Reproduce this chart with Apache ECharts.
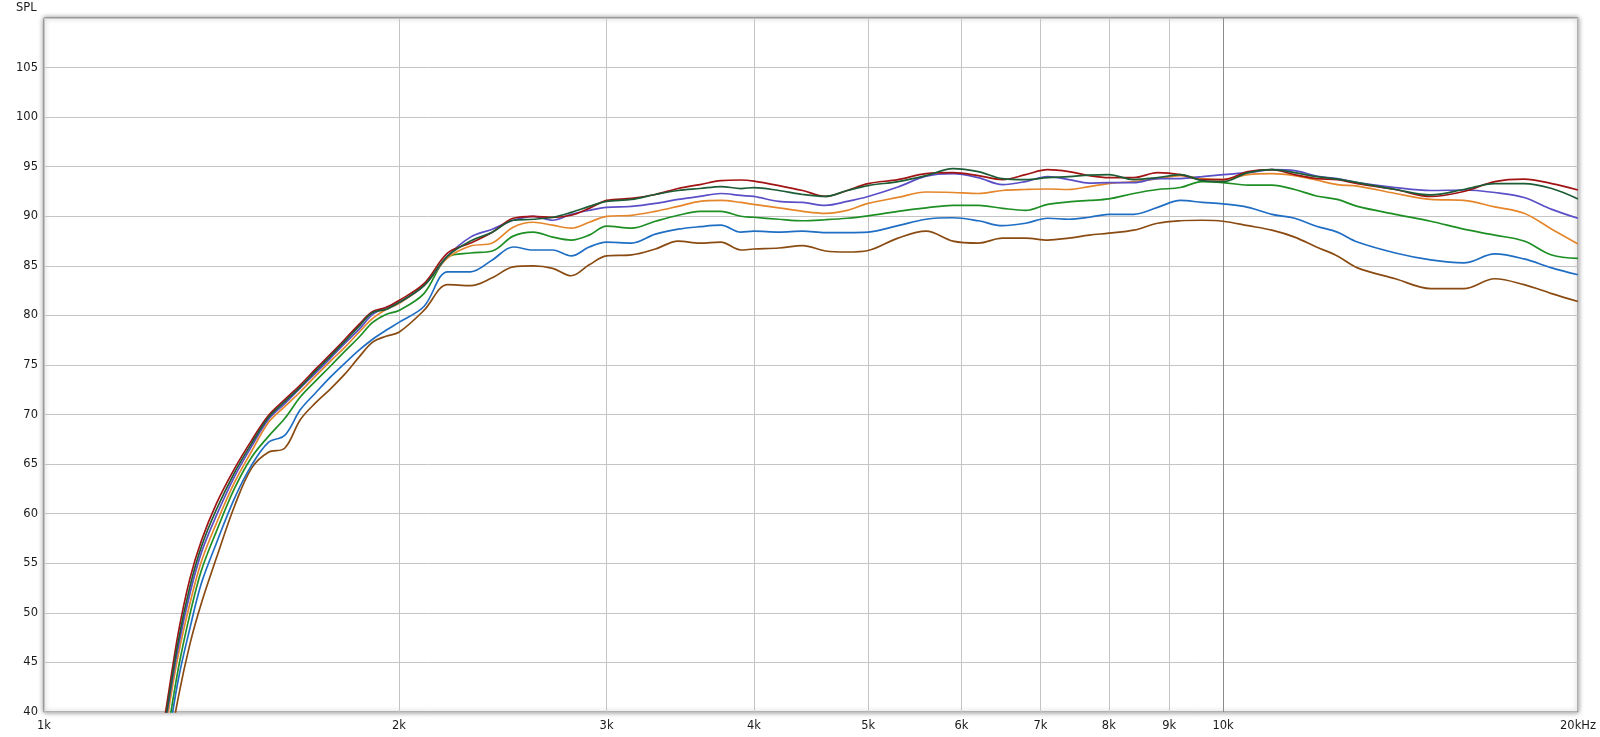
<!DOCTYPE html>
<html>
<head>
<meta charset="utf-8">
<script src="https://cdn.jsdelivr.net/npm/echarts@6/dist/echarts.min.js"></script>
<style>
html,body{margin:0;padding:0;background:#fff;}
#chart{width:1600px;height:737px;}
</style>
</head>
<body>
<div id="chart"></div>
<script>
// Frequencies (Hz)
var freq = [1240,1270,1300,1330,1360,1400,1450,1500,1550,1600,1650,1700,1750,1800,1850,1900,1950,2000,
  2100,2200,2300,2400,2500,2600,2700,2800,2900,3000,3150,3300,3450,3600,3750,3900,4000,
  4200,4400,4600,4800,5000,5300,5600,5900,6200,6500,6800,7100,7400,7700,8000,8400,8800,9200,
  9600,10000,10500,11000,11500,12000,12500,13000,14000,15000,16000,17000,18000,19000,20000];

// SPL curves (dB)
var splRed = [33,40.5,48,53.5,57.3,61,64.5,67.4,69.9,71.5,73,74.6,76.1,77.6,79.1,80.4,80.8,81.5,
  83.2,86.3,87.3,88.4,89.8,90,89.9,90.1,90.8,91.6,91.8,92.2,92.8,93.2,93.6,93.66,93.55,
  93.1,92.6,92.0,92.6,93.3,93.7,94.3,94.4,94.1,93.7,94.2,94.7,94.5,94.1,93.9,93.9,94.4,94.2,
  93.7,93.7,94.5,94.7,94.2,93.8,93.7,93.3,92.7,92.0,92.5,93.5,93.75,93.3,92.65];
var splDarkGreen = [32,39.8,47.2,52.7,56.7,60.4,64.1,67.1,69.7,71.3,72.8,74.4,75.9,77.4,78.9,80.3,80.6,81.3,
  83,86,87.5,88.4,89.6,89.7,89.9,90.4,91,91.5,91.7,92.2,92.6,92.8,93.0,92.8,92.9,
  92.6,92.2,92.0,92.6,93.1,93.5,94.1,94.8,94.5,93.8,93.7,93.9,94.0,94.15,94.2,93.7,93.9,94.2,
  93.6,93.5,94.4,94.7,94.4,94.0,93.75,93.4,92.7,92.15,92.7,93.3,93.3,92.8,91.75];
var splPurple = [31,39.5,46.6,52,56.1,59.8,63.7,66.8,69.5,71.1,72.7,74.2,75.7,77.2,78.6,80.1,80.8,81.3,
  83,86,87.9,88.7,89.6,90,89.6,90.2,90.6,90.9,91,91.3,91.7,92,92.3,92.1,92.0,
  91.5,91.4,91.1,91.5,92.0,92.95,94.05,94.3,93.9,93.2,93.5,94.0,93.7,93.35,93.4,93.4,93.8,93.8,
  94.0,94.2,94.4,94.7,94.6,94.06,93.8,93.4,92.9,92.6,92.65,92.4,91.9,90.7,89.8];
var splOrange = [30,38.8,45.8,51,55.2,59,63.1,66.3,69.2,70.8,72.3,73.9,75.4,76.8,78.3,79.7,80.6,81.2,
  83,85.8,87,87.3,88.9,89.4,89.1,88.8,89.4,90,90.1,90.5,91,91.5,91.6,91.4,91.2,
  90.85,90.5,90.3,90.6,91.3,91.9,92.45,92.4,92.3,92.6,92.7,92.75,92.7,93.0,93.3,93.5,93.8,94.1,
  93.8,93.7,94.2,94.3,94.1,93.66,93.2,93.05,92.3,91.7,91.6,90.95,90.3,88.7,87.2];
var splGreen = [29,37.1,44.4,49.9,54.3,58.2,62.5,65.7,67.8,69.6,71.8,73.4,74.9,76.4,77.8,79.3,80.1,80.5,
  82.2,85.9,86.3,86.5,88,88.4,87.9,87.6,88.1,89,88.8,89.5,90.1,90.5,90.5,90,89.9,
  89.7,89.55,89.65,89.8,90.05,90.5,90.85,91.1,91.1,90.8,90.6,91.2,91.45,91.6,91.75,92.3,92.7,92.9,
  93.5,93.4,93.15,93.15,92.7,92.05,91.7,91.0,90.2,89.5,88.7,88.1,87.5,86.1,85.75];
var splBlue = [28,36,43.3,48.5,53,57,61.5,64.9,67.2,67.9,70.5,72.2,73.8,75.2,76.5,77.6,78.5,79.3,
  80.9,84.4,84.4,85.6,86.9,86.6,86.6,86,86.9,87.4,87.3,88.2,88.7,88.95,89.1,88.4,88.5,
  88.4,88.5,88.35,88.35,88.4,89.05,89.7,89.85,89.55,89.05,89.3,89.8,89.7,89.9,90.2,90.2,90.9,91.6,
  91.4,91.25,90.9,90.2,89.8,89.0,88.4,87.4,86.3,85.6,85.3,86.2,85.7,84.8,84.1];
var splBrown = [26,34.6,41.5,46.9,51,55.5,60.7,64.6,66.2,66.6,69.5,71.2,72.6,74.1,75.8,77.3,77.9,78.3,
  80.5,83.1,83,83.8,84.9,85,84.75,84,85.1,86,86.1,86.7,87.5,87.3,87.4,86.6,86.7,
  86.8,87.05,86.5,86.4,86.55,87.8,88.5,87.5,87.3,87.8,87.8,87.6,87.8,88.1,88.3,88.6,89.3,89.55,
  89.6,89.5,89.05,88.6,87.9,86.9,86.0,84.8,83.7,82.7,82.7,83.7,83.1,82.2,81.4];

// Axis ticks
var xTicks = [1000,2000,3000,4000,5000,6000,7000,8000,9000,10000,20000];
var yMin = 40, yMax = 110, yStep = 5;

var seriesDefs = [
  {name:'brown', data:splBrown, color:'#8a4b12'},
  {name:'blue', data:splBlue, color:'#1f6ec4'},
  {name:'green', data:splGreen, color:'#1e8f24'},
  {name:'orange', data:splOrange, color:'#e5862b'},
  {name:'purple', data:splPurple, color:'#5a4fc6'},
  {name:'red', data:splRed, color:'#a11414'},
  {name:'darkgreen', data:splDarkGreen, color:'#1c5c36'}
];

var FONT = 'DejaVu Sans';
var gridColors = xTicks.map(function(f){ return f === 10000 ? '#8c8c8c' : '#c4c4c4'; });

var chart = echarts.init(document.getElementById('chart'), null, {renderer:'canvas'});
chart.setOption({
  animation: false,
  backgroundColor: '#ffffff',
  title: {
    text: 'SPL', left: 16, top: 2, padding: 0,
    textStyle: {fontFamily: FONT, fontSize: 11.5, fontWeight: 'normal', color: '#1a1a1a'}
  },
  grid: {
    left: 44, right: 22, top: 18, bottom: 25,
    show: true, backgroundColor: '#ffffff',
    borderColor: '#757575', borderWidth: 1,
    shadowColor: 'rgba(0,0,0,0.45)', shadowBlur: 5
  },
  xAxis: {
    type: 'log', logBase: 10, min: 1000, max: 20000,
    axisLine: {show: false},
    axisTick: {show: false, customValues: xTicks},
    axisLabel: {
      customValues: xTicks,
      fontFamily: FONT, fontSize: 11.5, color: '#1a1a1a', margin: 8,
      formatter: function(v){ v = Math.round(v); return v >= 19999 ? '20kHz' : (Math.round(v/1000) + 'k'); }
    },
    splitLine: {show: true, lineStyle: {color: gridColors, width: 1}}
  },
  yAxis: {
    type: 'value', min: yMin, max: yMax, interval: yStep,
    axisLine: {show: false}, axisTick: {show: false},
    axisLabel: {fontFamily: FONT, fontSize: 11.5, color: '#1a1a1a', margin: 6, showMaxLabel: false},
    splitLine: {show: true, lineStyle: {color: '#c4c4c4', width: 1}}
  },
  series: seriesDefs.map(function(s){
    return {
      name: s.name, type: 'line', showSymbol: false, smooth: 0.35, clip: true,
      lineStyle: {color: s.color, width: 1.7},
      itemStyle: {color: s.color},
      data: freq.map(function(f, i){ return [f, s.data[i]]; })
    };
  })
});
</script>
</body>
</html>
